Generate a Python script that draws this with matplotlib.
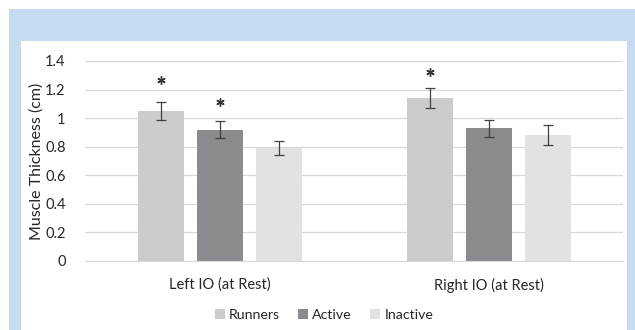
import matplotlib
matplotlib.use("Agg")
import matplotlib.pyplot as plt
import numpy as np
from matplotlib.patches import Rectangle

categories = ["Left IO (at Rest)", "Right IO (at Rest)"]
series = ["Runners", "Active", "Inactive"]
runners = [1.05, 1.14]
active = [0.92, 0.93]
inactive = [0.79, 0.88]
runners_err = [0.06, 0.07]
active_err = [0.06, 0.06]
inactive_err = [0.05, 0.07]
# significance marks: (series index, category index, height)
star_series = [0, 1, 0]
star_category = [0, 0, 1]
star_height = [1.27, 1.11, 1.32]
yticks = [0, 0.2, 0.4, 0.6, 0.8, 1, 1.2, 1.4]
ytick_labels = ["0", "0.2", "0.4", "0.6", "0.8", "1", "1.2", "1.4"]

colors = ["#CBCCCE", "#8A8B8E", "#E1E2E4"]
plt.rcParams['font.family'] = ['Lato', 'DejaVu Sans']

W, H = 635, 330
fig = plt.figure(figsize=(6.35, 3.3), dpi=100)
fig.patch.set_facecolor("white")
# blue frame
fig.patches.append(Rectangle((9 / W, 0), 1 - 9 / W, (H - 9) / H, transform=fig.transFigure,
                             facecolor="#C6DAF0", edgecolor="none", zorder=-10))
# white panel
fig.patches.append(Rectangle((21 / W, 0), (627 - 21) / W, (H - 41) / H, transform=fig.transFigure,
                             facecolor="white", edgecolor="none", zorder=-9))

ax = fig.add_axes([85 / W, (H - 261) / H, (623 - 85) / W, (261 - 61) / H])
ax.set_facecolor("none")

x = np.arange(len(categories))
width = 46 / 269
step = 59 / 269
vals = [runners, active, inactive]
errs = [runners_err, active_err, inactive_err]
for i, (v, e, c, name) in enumerate(zip(vals, errs, colors, series)):
    xs = x + (i - 1) * step
    ax.bar(xs, v, width=width, color=c, label=name, zorder=2,
           yerr=e, error_kw=dict(ecolor="#404040", elinewidth=0.9, capsize=3.5, capthick=0.9))
for si, ci, h in zip(star_series, star_category, star_height):
    xs = x[ci] + (si - 1) * step
    ax.plot([xs], [h], linestyle="none", marker=(6, 2, 0), markersize=6,
            markeredgewidth=1.0, color="#333333", zorder=3)

ax.set_xlim(-0.5, 1.5)
ax.set_ylim(0, 1.4)
ax.set_yticks(yticks)
ax.set_yticklabels(ytick_labels)
ax.set_xticks(x)
ax.set_xticklabels(categories)
ax.yaxis.grid(True, color="#D9D9D9", linewidth=0.9, zorder=0)
ax.set_axisbelow(True)
for s in ["top", "right", "left"]:
    ax.spines[s].set_visible(False)
ax.spines["bottom"].set_color("#D9D9D9")
ax.tick_params(axis="both", length=0, labelsize=10.5, colors="#262626")
ax.tick_params(axis="y", pad=14)
ax.tick_params(axis="x", pad=12)
ax.set_ylabel("Muscle Thickness (cm)", fontsize=11.5, color="#262626", labelpad=1)

fig.legend(loc="center", bbox_to_anchor=(324 / W, (H - 315) / H), ncol=3, frameon=False,
           fontsize=10.2, handlelength=0.7, handleheight=0.7, handletextpad=0.3,
           columnspacing=1.3, labelcolor="#262626")

fig.savefig("out.png", dpi=100)
